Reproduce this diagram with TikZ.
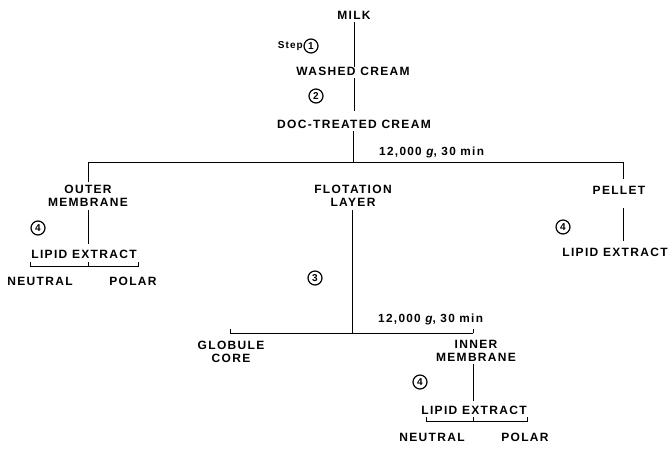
\documentclass[tikz,border=0pt]{standalone}
\usepackage{fontspec}
\setmainfont{Liberation Sans}
\newfontfamily\capfont{Liberation Sans}[LetterSpace=11]
\newfontfamily\condfont{Liberation Sans}[LetterSpace=11]
\begin{document}
\begin{tikzpicture}[x=1pt,y=-1pt,
  lab/.style={font=\capfont\bfseries\fontsize{12}{13}\selectfont, inner sep=0pt, align=center},
  num/.style={circle, draw, line width=1.2pt, minimum size=14pt, inner sep=0pt, font=\bfseries\fontsize{10}{10}\selectfont},
  cond/.style={font=\condfont\bfseries\fontsize{11.8}{12.5}\selectfont, inner sep=0pt, anchor=west},
  ln/.style={line width=1pt}]
\useasboundingbox (0,0) rectangle (668,448);
% main trunk
\node[lab] (milk) at (354,15) {MILK};
\node[lab] (washed) at (353,71) {WASHED CREAM};
\node[lab] (doc) at (354,124) {DOC-TREATED CREAM};
\node[font=\capfont\bfseries\fontsize{10}{11}\selectfont, inner sep=0pt, anchor=east] (step) at (303,46) {Step};
\node[num] (n1) at (311,46) {1};
\node[num] (n2) at (316,96) {2};
\draw[ln] (milk.south) ++(0,3) coordinate (m1) -- (m1 |- washed.north) coordinate (m2);
\draw[ln, shorten <=3pt, shorten >=9pt] (washed.south -| milk.south) -- (doc.north -| milk.south);
\coordinate (j1) at (353,162);
\coordinate (jl) at (88,162);
\coordinate (jr) at (623,162);
\draw[ln, shorten <=3pt] (doc.south -| j1) -- (j1);
\draw[ln] (jl) -- (jr);
\node[cond] (c1) at (379,152) {12,000 \textit{g}, 30 min};
% left branch
\node[lab] (outer) at (88,196) {OUTER\\MEMBRANE};
\node[lab] (lipl) at (84,254) {LIPID EXTRACT};
\node[num] (n4a) at (38,228) {4};
\node[lab] (neul) at (40,281) {NEUTRAL};
\node[lab] (poll) at (133,281) {POLAR};
\draw[ln, shorten >=3pt] (jl) -- (jl |- outer.north);
\draw[ln, shorten <=3pt, shorten >=6pt] (outer.south) -- (outer.south |- lipl.north);
\coordinate (bl1) at (30,266); \coordinate (bl2) at (138,266);
\draw[ln] ([yshift=4]bl1) -- (bl1) -- (bl2) -- ([yshift=4]bl2);
\draw[ln] (88,266) -- (88,262);
% middle branch
\node[lab] (flot) at (353,196) {FLOTATION\\LAYER};
\node[num] (n3) at (315,278) {3};
\coordinate (j2) at (352,333);
\coordinate (jl2) at (230,333);
\coordinate (jr2) at (473,333);
\draw[ln, shorten <=3pt] (flot.south -| j2) -- (j2);
\draw[ln] (jl2) -- (jr2);
\node[cond] (c2) at (378,319) {12,000 \textit{g}, 30 min};
\node[lab] (glob) at (231,352) {GLOBULE\\CORE};
\node[lab] (inner) at (476,351) {INNER\\MEMBRANE};
\draw[ln] (jl2) -- ([yshift=4]jl2);
\draw[ln] (jr2) -- ([yshift=4]jr2);
\node[lab] (lipi) at (474,410) {LIPID EXTRACT};
\node[num] (n4b) at (420,382) {4};
\draw[ln, shorten <=2pt, shorten >=5pt] (inner.south -| jr2) -- (lipi.north -| jr2);
\coordinate (bi1) at (426,421); \coordinate (bi2) at (527,421);
\draw[ln] ([yshift=4]bi1) -- (bi1) -- (bi2) -- ([yshift=4]bi2);
\draw[ln] (473,421) -- (473,417);
\node[lab] (neui) at (432,437) {NEUTRAL};
\node[lab] (poli) at (525,437) {POLAR};
% right branch
\node[lab] (pel) at (619,190) {PELLET};
\node[lab] (lipr) at (615,252) {LIPID EXTRACT};
\node[num] (n4c) at (563,227) {4};
\draw[ln, shorten >=7pt] (jr) -- (jr |- pel.north);
\draw[ln] (623,208) -- (623,241);
\end{tikzpicture}
\end{document}
